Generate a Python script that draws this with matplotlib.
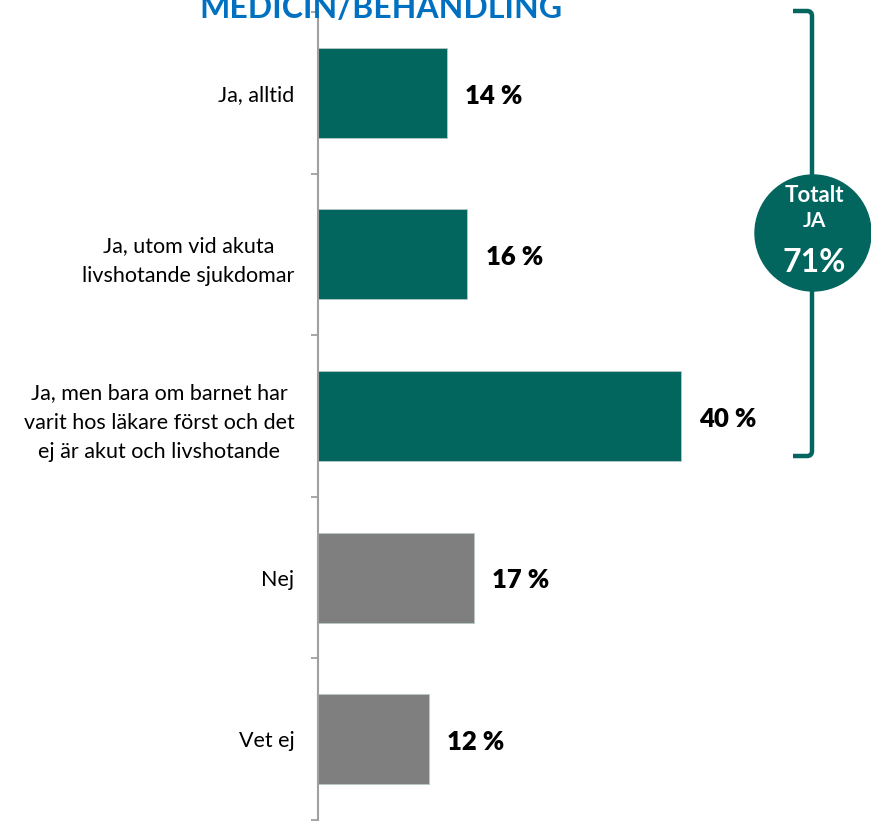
import matplotlib.pyplot as plt
from matplotlib.path import Path
from matplotlib.patches import PathPatch, Circle

categories = [
    'Ja, alltid',
    'Ja, utom vid akuta\nlivshotande sjukdomar',
    'Ja, men bara om barnet har\nvarit hos läkare först och det\nej är akut och livshotande',
    'Nej',
    'Vet ej',
]
values = [14.1, 16.3, 39.6, 17.0, 12.1]
is_yes = [True, True, True, False, False]
total_yes = '71%'
title = 'MEDICIN/BEHANDLING'

TEAL = '#02665F'
GRAY = '#7F7F7F'
plt.rcParams['font.family'] = ['Lato', 'DejaVu Sans']

W, H = 871, 821
fig = plt.figure(figsize=(W / 100, H / 100), dpi=100)

# main bar axes placed in pixel terms
left, right, top, bottom = 318, 871, 12, 820
ax = fig.add_axes([left / W, 1 - bottom / H, (right - left) / W, (bottom - top) / H])
ypos = list(range(len(categories)))
colors = [TEAL if y else GRAY for y in is_yes]
bars = ax.barh(ypos, values, height=0.556, color=colors, edgecolor='#b8c8c6', linewidth=0.6)
ax.set_xlim(0, (right - left) / 9.17)
ax.set_ylim(len(categories) - 0.5, -0.5)

for b, v in zip(bars, values):
    ax.annotate(f'{round(v)} %', xy=(b.get_width(), b.get_y() + b.get_height() / 2),
                xytext=(13, -2), textcoords='offset points', va='center', ha='left',
                fontsize=18.5, fontweight='heavy', color='black')

ax.set_yticks(ypos)
ax.set_yticklabels(categories, fontsize=15.5, linespacing=1.6, multialignment='center')
ax.set_yticks([i - 0.5 for i in range(len(categories) + 1)], minor=True)
ax.tick_params(axis='y', which='major', length=0, pad=17)
ax.tick_params(axis='y', which='minor', length=5, width=1.3, color='#A0A0A0', direction='out')
ax.set_xticks([])
for s in ['top', 'right', 'bottom']:
    ax.spines[s].set_visible(False)
ax.spines['left'].set_color('#A0A0A0')
ax.spines['left'].set_linewidth(1.5)

# overlay for title, bracket and circle
ov = fig.add_axes([0, 0, 1, 1])
ov.set_xlim(0, W)
ov.set_ylim(H, 0)
ov.axis('off')
ov.text(381, 18, title, ha='center', va='baseline', fontsize=23, fontweight='bold', color='#0070C0')

bx, bt, bb, hook, r = 812, 11, 456, 19, 5
verts = [(bx - hook, bt), (bx - r, bt), (bx, bt), (bx, bt + r),
         (bx, bb - r), (bx, bb), (bx - r, bb), (bx - hook, bb)]
codes = [Path.MOVETO, Path.LINETO, Path.CURVE3, Path.CURVE3,
         Path.LINETO, Path.CURVE3, Path.CURVE3, Path.LINETO]
ov.add_patch(PathPatch(Path(verts, codes), fill=False, edgecolor=TEAL, linewidth=3.2, capstyle='butt'))
ov.add_patch(Circle((813, 233), 58, color=TEAL, zorder=3))
ov.text(814, 196, 'Totalt', ha='center', va='center', color='white', fontsize=16, fontweight='bold', zorder=4)
ov.text(814, 221, 'JA', ha='center', va='center', color='white', fontsize=15, fontweight='bold', zorder=4)
ov.text(814, 262, total_yes, ha='center', va='center', color='white', fontsize=23, fontweight='bold', zorder=4)

fig.savefig('out.png', dpi=100)
